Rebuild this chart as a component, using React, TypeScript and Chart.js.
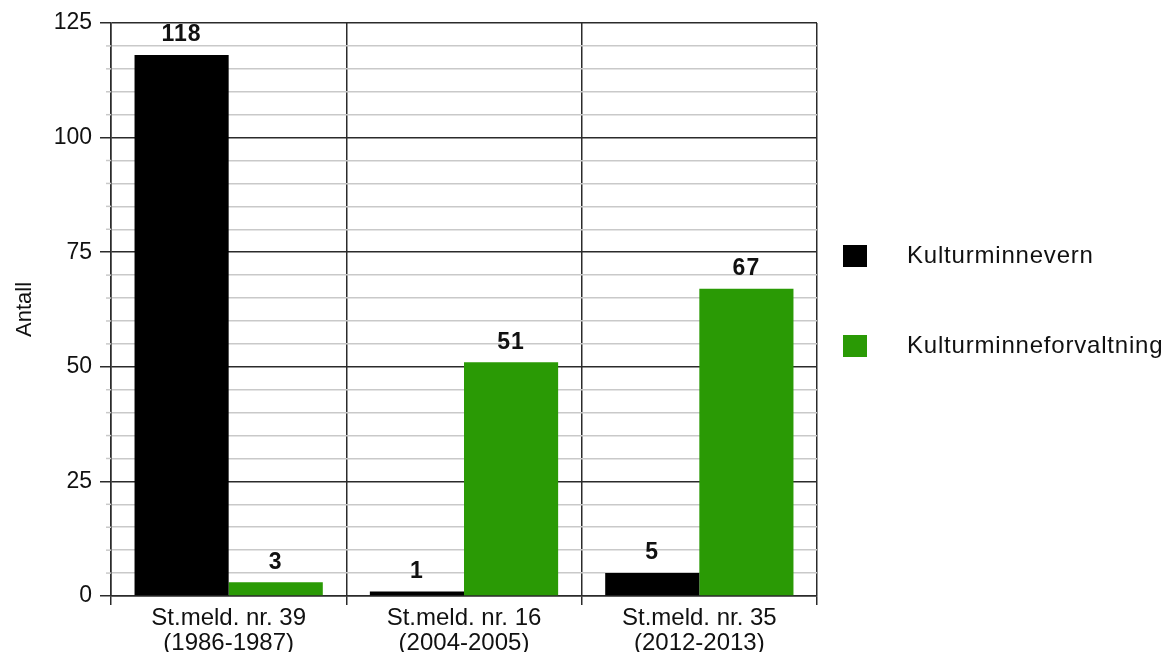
import React, { useEffect, useRef } from "react";
import { Chart, registerables } from "chart.js";

Chart.register(...registerables);

const categories: string[][] = [
  ["St.meld. nr. 39", "(1986-1987)"],
  ["St.meld. nr. 16", "(2004-2005)"],
  ["St.meld. nr. 35", "(2012-2013)"],
];
const seriesNames = ["Kulturminnevern", "Kulturminneforvaltning"];
const kulturminnevern = [118, 1, 5];
const kulturminneforvaltning = [3, 51, 67];
const seriesColors = ["#000000", "#2a9a05"];

const FONT = "'Liberation Sans', Arial, Helvetica, sans-serif";
const DARK = "#2b2b2b";
const LIGHT = "#c9c9c9";
const TEXT = "#111111";

const overlayPlugin = {
  id: "overlay",
  afterDraw(chart: any) {
    const ctx = chart.ctx as CanvasRenderingContext2D;
    const area = chart.chartArea;
    const yScale = chart.scales.y;
    ctx.save();
    // short stubs for the minor grid steps
    ctx.strokeStyle = LIGHT;
    ctx.lineWidth = 1.5;
    for (let v = 5; v < 125; v += 5) {
      if (v % 25 === 0) continue;
      const y = yScale.getPixelForValue(v);
      ctx.beginPath();
      ctx.moveTo(area.left - 5, y);
      ctx.lineTo(area.left, y);
      ctx.stroke();
    }
    // value labels above each bar
    ctx.fillStyle = TEXT;
    ctx.font = `bold 23px ${FONT}`;
    (ctx as any).letterSpacing = "1px";
    ctx.textAlign = "center";
    ctx.textBaseline = "middle";
    chart.data.datasets.forEach((ds: any, di: number) => {
      const meta = chart.getDatasetMeta(di);
      meta.data.forEach((bar: any, i: number) => {
        ctx.fillText(String(ds.data[i]), bar.x, bar.y - 20);
      });
    });
    // legend on the right
    const legendX = 843;
    const rows = [256, 346];
    ctx.font = `24px ${FONT}`;
    (ctx as any).letterSpacing = "0.8px";
    ctx.textAlign = "left";
    seriesNames.forEach((name, i) => {
      ctx.fillStyle = seriesColors[i];
      ctx.fillRect(legendX, rows[i] - 11, 24, 22);
      ctx.fillStyle = TEXT;
      ctx.fillText(name, 907, rows[i]);
    });
    (ctx as any).letterSpacing = "0px";
    ctx.restore();
  },
};

export default function App() {
  const canvasRef = useRef<HTMLCanvasElement | null>(null);

  useEffect(() => {
    if (!canvasRef.current) return;
    const chart = new Chart(canvasRef.current, {
      type: "bar",
      data: {
        labels: categories,
        datasets: [
          {
            label: seriesNames[0],
            data: kulturminnevern,
            backgroundColor: seriesColors[0],
            categoryPercentage: 0.8,
            barPercentage: 1.0,
          },
          {
            label: seriesNames[1],
            data: kulturminneforvaltning,
            backgroundColor: seriesColors[1],
            categoryPercentage: 0.8,
            barPercentage: 1.0,
          },
        ],
      },
      options: {
        animation: false,
        responsive: false,
        maintainAspectRatio: false,
        layout: { padding: { left: 0, top: 23, right: 351, bottom: 0 } },
        plugins: {
          legend: { display: false },
          tooltip: { enabled: false },
        },
        scales: {
          x: {
            grid: {
              offset: true,
              color: DARK,
              lineWidth: 1.5,
              tickLength: 9,
            },
            border: { display: true, color: DARK, width: 1.5 },
            ticks: {
              color: TEXT,
              font: { family: FONT, size: 24, lineHeight: 1.04 },
              padding: 1,
              maxRotation: 0,
              autoSkip: false,
            },
            afterFit(scale: any) {
              scale.height = 56;
            },
          },
          y: {
            min: 0,
            max: 125,
            grid: {
              color: (c: any) => (c.tick && c.tick.value % 25 === 0 ? DARK : LIGHT),
              tickColor: (c: any) => (c.tick && c.tick.value % 25 === 0 ? DARK : "rgba(0,0,0,0)"),
              lineWidth: 1.5,
              tickLength: 11,
            },
            border: { display: true, color: DARK, width: 1.5 },
            ticks: {
              stepSize: 5,
              autoSkip: false,
              color: TEXT,
              font: { family: FONT, size: 23 },
              padding: 8,
              callback: (v: any) => (Number(v) % 25 === 0 ? String(v) : ""),
            },
            title: {
              display: true,
              text: "Antall",
              color: TEXT,
              font: { family: FONT, size: 22 },
              padding: { top: 12, bottom: 0 },
            },
            afterFit(scale: any) {
              scale.width = 111;
            },
          },
        },
      },
      plugins: [overlayPlugin],
    });
    return () => chart.destroy();
  }, []);

  return (
    <div style={{ position: "fixed", left: 0, top: 0, width: 1168, height: 652, background: "#fff" }}>
      <canvas ref={canvasRef} width={1168} height={652} style={{ display: "block" }} />
    </div>
  );
}
